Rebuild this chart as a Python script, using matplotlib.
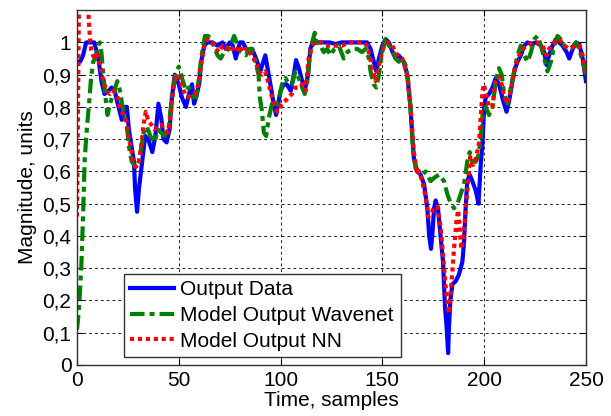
import numpy as np
import matplotlib
matplotlib.use("Agg")
import matplotlib.pyplot as plt

plt.rcParams['font.family'] = ['Liberation Sans', 'DejaVu Sans']

# Output Data (blue)
t_data = [0, 1.5, 3, 4.5, 8.5, 10.5, 12, 13.5, 15.5, 17, 18.5, 20, 22, 23.5, 24.5,
          25.5, 27, 28, 28.5, 29.5, 30.5, 32, 33.5, 35, 37, 38.5, 40, 41.5, 42.5, 44,
          45.5, 46.5, 48, 50, 51.5, 53.5, 55, 56.5, 57.5, 58.5, 60, 61, 62.5, 64, 66.5,
          69, 71.5, 73, 75, 76.5, 78, 80, 81.5, 83, 84.5, 86, 88, 90, 92.5, 95, 96.6,
          97.8, 100, 101.5, 103, 105, 106.5, 107.6, 109, 110.6, 112.2, 113.5, 114.6,
          116.3, 118, 120.5, 124, 127, 130, 133.5, 137, 140, 142.5, 144.2, 145.8, 147,
          148.3, 150, 151.6, 153.2, 155, 156.5, 158, 160.5, 162.2, 163, 163.8, 164.7,
          165.5, 167.1, 168.8, 170.5, 172.1, 173, 173.9, 174.5, 175.4, 176.2, 177.3,
          178.6, 179.8, 180.8, 181.6, 182.3, 182.7, 183.4, 184.4, 186, 187.6, 189.3,
          190.1, 190.9, 191.7, 192.9, 194.2, 195.9, 197.2, 198.3, 199.2, 200, 200.8,
          202.4, 204.1, 205.7, 207.3, 209.3, 211, 212.3, 213.9, 215.2, 216.4, 218,
          219.7, 221.3, 223, 225.4, 227.9, 229.5, 230.6, 231.9, 233.6, 235.2, 236.8,
          238.5, 240.5, 241.8, 243.5, 245.1, 246.7, 248.4, 250]
y_data = [0.94, 0.94, 0.96, 1.0, 1.0, 0.95, 0.88, 0.84, 0.85, 0.86, 0.85, 0.81, 0.76, 0.80, 0.80,
          0.73, 0.67, 0.63, 0.55, 0.475, 0.55, 0.63, 0.71, 0.70, 0.66, 0.71, 0.81, 0.76, 0.70, 0.69,
          0.73, 0.82, 0.90, 0.87, 0.83, 0.80, 0.84, 0.87, 0.81, 0.83, 0.87, 0.94, 0.99, 1.0, 1.0,
          0.99, 1.0, 0.98, 1.0, 0.99, 0.95, 1.0, 1.0, 0.98, 0.97, 0.98, 0.95, 0.91, 0.96, 0.87, 0.81,
          0.775, 0.85, 0.87, 0.87, 0.85, 0.90, 0.945, 0.92, 0.88, 0.86, 0.90, 0.98,
          1.01, 1.0, 1.0, 1.0, 0.995, 1.0, 1.0, 1.0, 1.0, 1.0, 0.98, 0.94, 0.91,
          0.95, 0.99, 1.01, 1.0, 0.97, 0.95, 0.96, 0.94, 0.90, 0.85, 0.80, 0.71,
          0.64, 0.60, 0.59, 0.56, 0.486, 0.40, 0.36, 0.40, 0.486, 0.51, 0.486,
          0.40, 0.32, 0.176, 0.115, 0.037, 0.115, 0.20, 0.25, 0.26, 0.28, 0.32,
          0.38, 0.486, 0.57, 0.59, 0.57, 0.54, 0.50, 0.62, 0.69, 0.80, 0.83,
          0.84, 0.86, 0.89, 0.87, 0.82, 0.785, 0.82, 0.88, 0.92, 0.94, 0.96,
          0.99, 1.0, 0.995, 1.0, 0.99, 0.97, 0.93, 0.96, 0.99, 1.01, 1.0,
          0.99, 0.97, 0.95, 0.98, 1.0, 0.995, 0.95, 0.88]

# Model Output Wavenet (green)
t_wav = [0, 0.8, 1.3, 2.1, 3, 3.8, 5, 5.8, 6.8, 7.9, 9, 10.4, 11.2, 12, 12.9, 14, 15, 16.2,
         17.8, 19.8, 21.1, 22.8, 24.4, 25.7, 26.9, 28.2, 29.7, 31, 32.7, 34.3, 36, 38.1,
         39.8, 41.4, 43, 45, 46.7, 48.7, 50, 52, 53.6, 55, 56.9, 58.6, 59.9, 61.2, 62.9,
         64.5, 66.5, 69, 70.6, 72.3, 74.8, 77.2, 78.9, 80.5, 83, 84.7, 86, 87.6, 89.2,
         89.8, 90.8, 91.8, 92.9, 94.2, 95.8, 97.4, 99.1, 100.7, 102.4, 104, 105.6, 107.3,
         108.9, 110.6, 111.9, 113, 114.2, 115.5, 116.8, 117.9, 119.6, 121.2, 122.9, 124.5,
         126.5, 128.6, 131, 132.8, 135.2, 137.6, 140, 141.8, 143.4, 144.2, 145.8, 147,
         148.3, 149.9, 151.6, 153.2, 154.9, 156.5, 158.1, 159.8, 161.4, 162.7, 163.8, 165,
         166.3, 168, 169.6, 171.3, 173.7, 175.4, 177.8, 180.3, 181.9, 183.6, 185.2, 186.9,
         188.5, 190.1, 191.7, 192.9, 194.2, 195.9, 197.2, 198.3, 199.2, 200.8, 202.4,
         204.1, 205.7, 207.3, 208.6, 209.8, 211.4, 213.1, 214.7, 216.4, 218, 219.7, 221.3,
         223, 224.6, 226.2, 227.9, 229.5, 231.1, 232.8, 234.4, 236, 237.7, 239.3, 240.9,
         242.6, 245.1, 246.7, 248.4, 250]
y_wav = [0.11, 0.16, 0.21, 0.30, 0.465, 0.64, 0.745, 0.80, 0.88, 0.94, 0.95, 0.99, 1.0, 0.97, 0.90, 0.83, 0.775, 0.81,
         0.84, 0.88, 0.85, 0.785, 0.745, 0.67, 0.63, 0.62, 0.61, 0.65, 0.72, 0.74, 0.71, 0.69,
         0.73, 0.72, 0.71, 0.73, 0.84, 0.91, 0.925, 0.88, 0.85, 0.86, 0.83, 0.83, 0.89, 0.96, 1.02,
         1.02, 1.0, 0.96, 0.95, 0.97, 0.98, 1.02, 0.99, 0.97, 0.96, 0.98, 0.98, 0.94, 0.90,
         0.83, 0.79, 0.72, 0.71, 0.765, 0.81, 0.80, 0.82, 0.87, 0.89, 0.87, 0.87, 0.91,
         0.89, 0.86, 0.84, 0.87, 0.95, 1.0, 1.03, 1.0, 0.99, 0.97, 0.98, 0.96,
         0.98, 0.99, 0.95, 0.97, 0.98, 0.98, 0.97, 0.98, 0.95, 0.91, 0.87, 0.86,
         0.90, 0.97, 1.01, 0.99, 0.98, 0.95, 0.94, 0.95, 0.93, 0.88, 0.80, 0.67,
         0.61, 0.60, 0.59, 0.60, 0.57, 0.58, 0.59, 0.57, 0.53, 0.50, 0.486, 0.50,
         0.53, 0.56, 0.63, 0.66, 0.63, 0.63, 0.65, 0.70, 0.775, 0.80, 0.775,
         0.80, 0.88, 0.92, 0.90, 0.84, 0.81, 0.86, 0.91, 0.96, 0.99, 0.96, 0.94,
         0.97, 1.01, 1.02, 0.99, 0.95, 0.91, 0.94, 0.99, 1.02, 1.01, 0.99, 0.98,
         0.98, 1.0, 0.98, 0.94, 0.90]

# Model Output NN (red)
t_nn = [0, 0.5, 1, 2.5, 4.5, 5.5, 6.3, 7, 8.7, 10, 11.7, 12.9, 14.5, 16.2, 17.8, 19.5, 21.1,
        22.8, 24.4, 25.2, 26.6, 27.7, 28.9, 30.2, 31.4, 32.7, 33.8, 35.1, 36.5, 38.1, 39.8,
        41.4, 43, 44.7, 46, 47.2, 48.3, 49.7, 51.3, 53, 54.6, 56.3, 57.9, 59.6, 61.2, 62.9,
        64.5, 66.5, 68.2, 69.8, 71.5, 73.1, 74.8, 76.4, 78, 79.7, 81.4, 83, 84.7, 86, 87.6,
        89.2, 90.9, 92.5, 94.2, 95.8, 97.4, 98.3, 100.7, 102.5, 104, 105.5, 107.3, 109,
        110.6, 112.2, 113.8, 115.5, 117, 120.4, 123.7, 127, 130.2, 133.5, 136.8, 140, 142.6,
        144.7, 146.6, 148.3, 150.7, 152.4, 154.9, 157.3, 159.8, 162.2, 163.8, 165.5, 167.1,
        168, 169.6, 171.3, 172.5, 173.9, 175.4, 177, 178.6, 180.3, 181.4, 182.7, 183.6,
        184.4, 185.2, 186.3, 187.2, 188, 188.8, 189.6, 190.4, 191.2, 192.1, 193.1, 194.5,
        196, 197.5, 198.3, 199.2, 200, 200.8, 202.4, 204.1, 205.7, 208, 209.8, 211.4,
        213.1, 214.7, 216.4, 218.8, 221.3, 223.8, 226.2, 228.7, 230.6, 231.9, 234.4, 236.8,
        239.3, 241.8, 244.3, 246.7, 248.4, 250]
y_nn = [0.46, 0.8, 1.15, 1.25, 1.2, 1.1, 1.02, 0.976, 0.945, 0.97, 0.92, 0.88, 0.85, 0.84, 0.85, 0.84, 0.80,
        0.775, 0.755, 0.71, 0.67, 0.62, 0.615, 0.62, 0.67, 0.745, 0.785, 0.755, 0.745, 0.73, 0.74,
        0.745, 0.73, 0.72, 0.775, 0.85, 0.89, 0.90, 0.87, 0.84, 0.83, 0.84, 0.84, 0.87, 0.94, 1.0,
        1.01, 1.0, 0.98, 0.97, 0.99, 0.98, 0.99, 0.98, 0.97, 0.99, 0.97, 0.98, 0.98, 0.95, 0.945,
        0.91, 0.90, 0.91, 0.87, 0.83, 0.80, 0.785, 0.81, 0.82, 0.83, 0.84, 0.86, 0.86,
        0.87, 0.85, 0.95, 0.99, 1.0, 1.0, 0.99, 0.99, 0.99, 1.0, 1.0, 1.0, 0.99,
        0.93, 0.88, 0.93, 0.99, 1.0, 0.99, 0.96, 0.95, 0.90, 0.80, 0.66, 0.59,
        0.60, 0.57, 0.52, 0.46, 0.465, 0.49, 0.49, 0.43, 0.30, 0.22, 0.16, 0.23,
        0.29, 0.36, 0.44, 0.48, 0.42, 0.36, 0.38, 0.44, 0.50, 0.57, 0.645, 0.62,
        0.64, 0.69, 0.765, 0.85, 0.87, 0.84, 0.80, 0.80, 0.89, 0.89, 0.83, 0.81,
        0.85, 0.91, 0.95, 0.98, 0.99, 1.0, 1.0, 0.99, 0.96, 0.98, 1.0, 1.01,
        0.99, 0.98, 0.99, 0.99, 0.96, 0.905]

x_ticks = [0, 50, 100, 150, 200, 250]
y_ticks = [0, 0.1, 0.2, 0.3, 0.4, 0.5, 0.6, 0.7, 0.8, 0.9, 1.0]
y_tick_labels = ['0', '0,1', '0,2', '0,3', '0,4', '0,5', '0,6', '0,7', '0,8', '0,9', '1']

fig = plt.figure(figsize=(6.11, 4.16), dpi=100)
ax = fig.add_axes([0.126, 0.1226, 0.833, 0.853])

ax.plot(t_data, y_data, color='#0000ff', lw=3, label='Output Data')
ax.plot(t_wav, y_wav, color='#008000', lw=3, linestyle=(0, (3.5, 1.2, 1.2, 1.2)),
        label='Model Output Wavenet')
ax.plot(t_nn, y_nn, color='#ff0000', lw=3, linestyle=(0, (1, 0.9)), label='Model Output NN')

ax.set_xlim(0, 250)
ax.set_ylim(0, 1.1)
ax.set_xticks(x_ticks)
ax.set_yticks(y_ticks)
ax.set_yticklabels(y_tick_labels)
ax.tick_params(direction='in', length=4, width=0.8, top=True, right=True,
               labelsize=15, pad=4)
ax.grid(True, color='k', lw=0.6, linestyle=(0, (3.5, 3.5)))
for s in ax.spines.values():
    s.set_color('#333333')
    s.set_linewidth(1)

ax.set_xlabel('Time, samples', fontsize=15, labelpad=1)
ax.set_ylabel('Magnitude, units', fontsize=15, labelpad=4)

leg = ax.legend(loc='lower left', bbox_to_anchor=(0.092, 0.022), fontsize=15,
                fancybox=False, framealpha=1, edgecolor='#333333', borderpad=0.32,
                labelspacing=0.32, handlelength=2.1, handletextpad=0.3, borderaxespad=0)
leg.get_frame().set_linewidth(1)

fig.savefig('out.png', dpi=100, facecolor='white')
